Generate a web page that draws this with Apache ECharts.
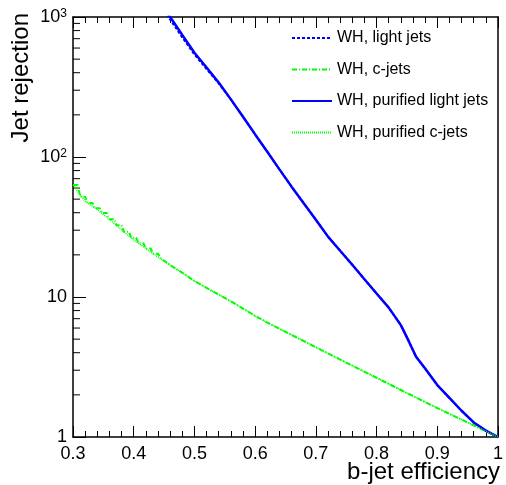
<!DOCTYPE html>
<html>
<head>
<meta charset="utf-8">
<script src="https://cdn.jsdelivr.net/npm/echarts@6/dist/echarts.min.js"></script>
<style>
  html, body { margin: 0; padding: 0; background: #fff; }
  #chart { width: 506px; height: 485px; }
</style>
</head>
<body>
<div id="chart"></div>
<script>
// b-jet efficiency points for the light-jet curves
const effLight = [0.45, 0.46, 0.48, 0.50, 0.52, 0.54, 0.56, 0.58, 0.60, 0.62, 0.64, 0.66, 0.68, 0.70, 0.72, 0.74, 0.76, 0.78, 0.80, 0.82, 0.84, 0.85, 0.86, 0.865, 0.88, 0.90, 0.92, 0.94, 0.96, 0.98, 1.00]
const lightJets = [1120, 960, 715, 540, 425, 336, 258, 194, 145, 109, 81.6, 61.4, 46.8, 35.6, 27, 21.4, 17.0, 13.4, 10.6, 8.4, 6.3, 5.15, 4.17, 3.75, 3.08, 2.35, 1.90, 1.54, 1.27, 1.11, 1.0]
const purifiedLightJets = [1160, 1000, 743, 556, 436, 340, 258, 194, 145, 109, 81.6, 61.4, 46.8, 35.6, 27, 21.4, 17.0, 13.4, 10.6, 8.4, 6.3, 5.15, 4.17, 3.75, 3.08, 2.35, 1.90, 1.54, 1.27, 1.11, 1.0]

// c-jets: stepped part at low efficiency, then smooth
const effCStep = [0.300, 0.312, 0.324, 0.336, 0.348, 0.360, 0.372, 0.384, 0.396, 0.408, 0.420, 0.432, 0.444]
const cJetsStep = [63, 52, 47, 43, 39.8, 35.9, 32.5, 29.2, 26.5, 24.2, 22.2, 20.4, 19.0]
const effC = [0.30, 0.32, 0.34, 0.36, 0.38, 0.40, 0.42, 0.44, 0.46, 0.48, 0.50, 0.52, 0.54, 0.56, 0.58, 0.60, 0.62, 0.65, 0.70, 0.75, 0.80, 0.85, 0.90, 0.95, 1.00]
const purifiedCJets = [63, 48.2, 42.1, 35.9, 30.1, 25.6, 22.2, 19.3, 16.9, 14.9, 13.0, 11.6, 10.4, 9.33, 8.27, 7.33, 6.56, 5.64, 4.38, 3.40, 2.65, 2.06, 1.61, 1.27, 1.0]

const yMinorTicks = [2, 3, 4, 5, 6, 7, 8, 9, 20, 30, 40, 50, 60, 70, 80, 90, 200, 300, 400, 500, 600, 700, 800, 900]

const FONT = `'Liberation Sans', Arial, Helvetica, sans-serif`

function zip (xs, ys) {
  return xs.map((x, i) => [x, ys[i]])
}

// stairs then the smooth tail
let cJets = []
for (let i = 0; i < effCStep.length; i++) {
  cJets.push([effCStep[i], cJetsStep[i]])
  if (i + 1 < effCStep.length) cJets.push([effCStep[i + 1] - 0.004, cJetsStep[i]])
}
effC.forEach((x, i) => {
  if (x > 0.444) cJets.push([x, purifiedCJets[i]])
})

const chart = echarts.init(document.getElementById('chart'))

const option = {
  animation: false,
  textStyle: { fontFamily: FONT },
  grid: { left: 73, right: 5, top: 17, bottom: 48 },
  legend: {
    data: ['WH, light jets', 'WH, c-jets', 'WH, purified light jets', 'WH, purified c-jets'],
    orient: 'vertical',
    left: 291,
    top: 30,
    padding: 0,
    itemWidth: 40,
    itemHeight: 16,
    itemGap: 15.5,
    selectedMode: false,
    itemStyle: { opacity: 0 }, // hide the symbol, keep the line sample
    textStyle: { fontSize: 16, color: '#000', fontFamily: FONT }
  },
  xAxis: [{
    type: 'value',
    min: 0.3,
    max: 1,
    interval: 0.1,
    axisLine: { lineStyle: { color: '#000', width: 1.5 } },
    axisTick: { inside: true, length: 11, lineStyle: { color: '#000' } },
    minorTick: { show: true, splitNumber: 5, length: 6, lineStyle: { color: '#000' } },
    splitLine: { show: false },
    axisLabel: {
      color: '#000',
      fontSize: 18,
      margin: 8,
      fontFamily: FONT,
      formatter: v => (v === 1 ? '1' : v.toFixed(1))
    }
  }, {
    type: 'value',
    position: 'top',
    min: 0.3,
    max: 1,
    interval: 0.1,
    axisLine: { lineStyle: { color: '#000', width: 1.5 } },
    axisTick: { inside: true, length: 11, lineStyle: { color: '#000' } },
    minorTick: { show: true, splitNumber: 5, length: 6, lineStyle: { color: '#000' } },
    splitLine: { show: false },
    axisLabel: { show: false }
  }],
  yAxis: [{
    type: 'log',
    logBase: 10,
    min: 1,
    max: 1000,
    axisLine: { show: true, lineStyle: { color: '#000', width: 1.5 } },
    axisTick: { inside: true, length: 13, lineStyle: { color: '#000' } },
    splitLine: { show: false },
    axisLabel: {
      color: '#000',
      fontSize: 18,
      margin: 6,
      fontFamily: FONT,
      formatter: v => {
        if (v >= 100) return '10{s|' + Math.round(Math.log10(v)) + '}'
        return String(v)
      },
      rich: {
        s: { fontSize: 12, verticalAlign: 'top', fontFamily: FONT, color: '#000' }
      }
    }
  }, {
    type: 'log',
    logBase: 10,
    position: 'right',
    min: 1,
    max: 1000,
    axisLine: { show: true, lineStyle: { color: '#000', width: 1.5 } },
    axisTick: { show: false },
    splitLine: { show: false },
    axisLabel: { show: false }
  }],
  graphic: [{
    type: 'text',
    x: 9,
    y: 13,
    rotation: Math.PI / 2,
    style: { text: 'Jet rejection', fontSize: 24, fontFamily: FONT, fill: '#000', align: 'right', verticalAlign: 'top' }
  }, {
    type: 'text',
    x: 500,
    y: 460,
    style: { text: 'b-jet efficiency', fontSize: 24, fontFamily: FONT, fill: '#000', align: 'right', verticalAlign: 'top' }
  }],
  series: [
    {
      name: 'WH, light jets',
      type: 'line',
      symbol: 'none',
      color: '#0000ff',
      lineStyle: { width: 2, type: [3, 2] },
      data: zip(effLight, lightJets)
    },
    {
      name: 'WH, c-jets',
      type: 'line',
      symbol: 'none',
      color: '#00ff00',
      lineStyle: { width: 2, type: [5, 2, 1, 2] },
      data: cJets
    },
    {
      name: 'WH, purified light jets',
      type: 'line',
      symbol: 'none',
      color: '#0000ff',
      lineStyle: { width: 2.5, type: 'solid' },
      data: zip(effLight, purifiedLightJets)
    },
    {
      name: 'WH, purified c-jets',
      type: 'line',
      symbol: 'none',
      color: '#00ff00',
      lineStyle: { width: 1.5, type: [1, 1] },
      data: zip(effC, purifiedCJets)
    },
    {
      // log minor ticks on the left axis
      type: 'custom',
      silent: true,
      clip: false,
      data: yMinorTicks.map(v => [0.3, v]),
      encode: { x: 0, y: 1 },
      renderItem: (params, api) => {
        const p = api.coord([api.value(0), api.value(1)])
        return {
          type: 'line',
          shape: { x1: p[0], y1: p[1], x2: p[0] + 7, y2: p[1] },
          style: { stroke: '#000', lineWidth: 1 }
        }
      }
    }
  ]
}

chart.setOption(option)
</script>
</body>
</html>
